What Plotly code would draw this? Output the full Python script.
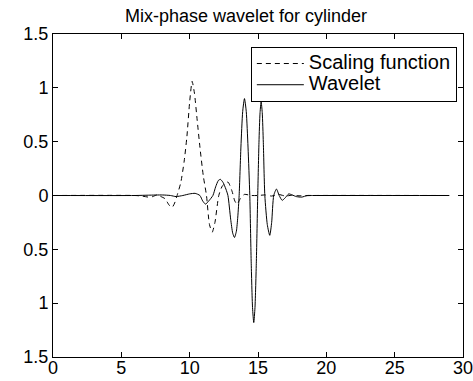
import plotly.graph_objects as go

# Scaling function (dashed)
scal_x = [0, 6.0, 6.5, 7.0, 7.3, 7.6, 7.9, 8.2, 8.5, 8.72, 8.9, 9.08, 9.35, 9.6, 9.8, 10.0, 10.18,
          10.35, 10.55, 10.75, 11.0, 11.23, 11.45, 11.65, 11.85, 12.13, 12.4, 12.8, 13.1, 13.3,
          13.47, 13.7, 14.0, 14.5, 15.0, 15.5, 16.0, 16.5, 17.0, 17.5, 18.0, 19.0, 29.0]
scal_y = [0, 0.0, -0.005, -0.015, -0.01, 0.005, -0.01, -0.03, -0.09, -0.11, -0.07, 0.0, 0.12, 0.32,
          0.55, 0.87, 1.06, 0.95, 0.7, 0.45, 0.18, 0.0, -0.27, -0.34, -0.25, 0.0, 0.09, 0.125, 0.04,
          -0.05, -0.08, -0.03, 0.01, 0.0, 0.0, 0.005, -0.005, 0.01, -0.005, 0.003, -0.003, 0.0, 0.0]

# Wavelet (solid)
wav_x = [0, 6.0, 7.0, 8.0, 8.6, 9.0, 9.5, 10.0, 10.4, 10.75, 10.95, 11.16, 11.4, 11.7, 11.9, 12.1,
         12.25, 12.45, 12.65, 12.8, 13.0, 13.15, 13.28, 13.42, 13.52, 13.62, 13.75, 13.88, 14.01,
         14.14, 14.27, 14.40, 14.50, 14.60, 14.69, 14.78, 14.88, 14.98, 15.07, 15.15, 15.23, 15.31,
         15.39, 15.50, 15.68, 15.86, 16.0, 16.15, 16.35, 16.55, 16.77, 17.0, 17.25, 17.5, 17.8,
         18.2, 18.6, 19.0, 29.0]
wav_y = [0, 0.0, 0.003, 0.005, 0.0, -0.01, 0.0, 0.015, 0.02, 0.0, -0.05, -0.08, -0.05, 0.0, 0.08,
         0.14, 0.15, 0.12, 0.06, 0.0, -0.22, -0.35, -0.39, -0.33, -0.2, 0.0, 0.45, 0.78, 0.9, 0.78,
         0.45, 0.0, -0.61, -1.04, -1.18, -1.04, -0.61, 0.0, 0.49, 0.77, 0.87, 0.77, 0.49, 0.0,
         -0.27, -0.37, -0.25, 0.0, 0.06, 0.0, -0.045, -0.02, 0.015, 0.005, -0.01, -0.015, 0.0,
         0.0, 0.0]

x_ticks = [0, 5, 10, 15, 20, 25, 30]
y_ticks = [-1.5, -1, -0.5, 0, 0.5, 1, 1.5]
y_ticktext = ["1.5", "1", "0.5", "0", "0.5", "1", "1.5"]

font = "Liberation Sans, Arial, Helvetica, sans-serif"

fig = go.Figure()
fig.add_trace(go.Scatter(x=scal_x, y=scal_y, mode="lines",
                         name="<span style='font-size:20px'>Scaling function</span>",
                         line=dict(color="black", width=1, dash="5px,4px", shape="spline",
                                   smoothing=0.6)))
fig.add_trace(go.Scatter(x=wav_x, y=wav_y, mode="lines",
                         name="<span style='font-size:20px'>Wavelet</span>",
                         line=dict(color="black", width=1, shape="spline", smoothing=0.6)))

axis_common = dict(showgrid=False, zeroline=False, showline=True, mirror="ticks",
                   linecolor="black", linewidth=1, ticks="inside", ticklen=5,
                   tickcolor="black", automargin=False, ticklabeloverflow="allow",
                   tickfont=dict(size=18, color="black", family=font))

fig.update_layout(
    width=473, height=381,
    margin=dict(l=53, r=10, t=34, b=24),
    paper_bgcolor="white", plot_bgcolor="white",
    font=dict(family=font, color="black"),
    title=dict(text="Mix-phase wavelet for cylinder", x=0.52, xanchor="center",
               yref="container", y=0.958, yanchor="middle", automargin=False,
               font=dict(size=18, family=font, color="black")),
    xaxis=dict(range=[0, 30], tickvals=x_ticks, ticklabelstandoff=-6, **axis_common),
    yaxis=dict(range=[-1.5, 1.5], tickvals=y_ticks, ticktext=y_ticktext, **axis_common),
    legend=dict(x=0.985, xanchor="right", y=0.96, yanchor="top",
                bordercolor="black", borderwidth=1, bgcolor="white",
                font=dict(size=14, family=font, color="black"),
                tracegroupgap=0, itemwidth=47),
    showlegend=True,
)

fig.write_html("out.html")
